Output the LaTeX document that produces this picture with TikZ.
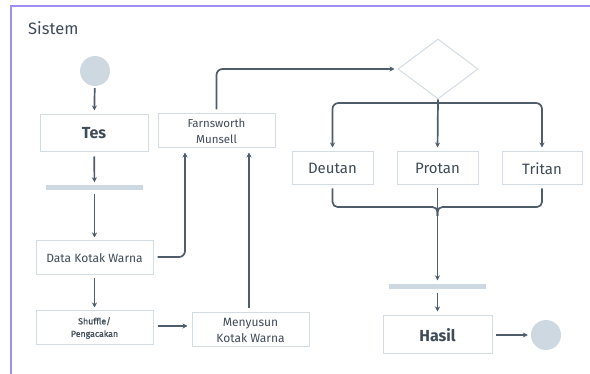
\documentclass[tikz,border=0pt]{standalone}
\usepackage{fontspec}
\setmainfont{Fira Sans}
\usetikzlibrary{shapes.geometric,arrows.meta}
\definecolor{txt}{HTML}{3F4B57}
\definecolor{ln}{HTML}{4F5D6B}
\definecolor{bd}{HTML}{D3DBE3}
\definecolor{fillc}{HTML}{CED8E1}
\definecolor{frame}{HTML}{9E90F5}
\tikzset{
  box/.style={draw=bd, line width=1pt, fill=white, text=txt, align=center, inner sep=1pt},
  bar/.style={fill=fillc, draw=none, minimum height=5pt, inner sep=0pt},
  dot/.style={circle, fill=fillc, draw=none, minimum size=30pt, inner sep=0pt},
  conn/.style={draw=ln, line width=1.7pt, -{Stealth[length=5pt,width=5pt]}, rounded corners=6pt},
  plainconn/.style={draw=ln, line width=1.7pt, rounded corners=5pt},
}
\begin{document}
\begin{tikzpicture}[x=1pt,y=-1pt]
\useasboundingbox (0,0) rectangle (590,374);
\draw[frame, line width=1.3pt] (11,374) -- (11,6) -- (590,6);
\node[anchor=base west, text=txt, font=\fontsize{16.5}{18}\selectfont, inner sep=0pt] (title) at (28,35) {Sistem};

\node[dot] (start) at (95,71) {};
\node[box, minimum width=108pt, minimum height=37pt, font=\fontsize{16}{18}\selectfont\bfseries] (tes) at (94,133.5) {Tes};
\node[bar, minimum width=97pt] (bar1) at (94.5,188) {};
\node[box, minimum width=117pt, minimum height=34pt, font=\fontsize{12}{14}\selectfont] (data) at (94.5,258) {Data Kotak Warna};
\node[box, minimum width=117pt, minimum height=34pt, font=\fontsize{8.8}{12.5}\selectfont\addfontfeature{FakeBold=0.8}] (shuf) at (94.5,328) {Shuffle/\\Pengacakan};
\node[box, minimum width=117pt, minimum height=34pt, font=\fontsize{12}{16}\selectfont] (meny) at (250.5,330) {Menyusun\\Kotak Warna};
\node[box, minimum width=117pt, minimum height=34pt, font=\fontsize{11.5}{16}\selectfont] (farn) at (216.5,131) {Farnsworth\\Munsell};
\node[diamond, draw=bd, line width=1pt, minimum width=80pt, minimum height=60pt, inner sep=0pt, aspect=1.33] (dia) at (438,69) {};
\node[box, minimum width=81pt, minimum height=33pt, font=\fontsize{15}{17}\selectfont] (deu) at (332.5,168.5) {Deutan};
\node[box, minimum width=81pt, minimum height=33pt, font=\fontsize{15}{17}\selectfont] (pro) at (437.5,168.5) {Protan};
\node[box, minimum width=80pt, minimum height=33pt, font=\fontsize{15}{17}\selectfont] (tri) at (542,168.5) {Tritan};
\node[bar, minimum width=97pt] (bar2) at (437.5,287) {};
\node[box, minimum width=109pt, minimum height=38pt, font=\fontsize{16}{18}\selectfont\bfseries] (has) at (437.5,335) {Hasil};
\node[dot] (end) at (546,335) {};

\coordinate (split) at (438,103);
\coordinate (merge) at (437.5,207);
\coordinate (mergelow) at (437.5,216);

\draw[conn, shorten <=2pt, shorten >=4pt] (start) -- (tes);
\draw[conn, shorten <=4pt, shorten >=3pt] (tes) -- (bar1);
\draw[conn, shorten <=3pt, shorten >=3pt] (bar1) -- (data);
\draw[conn, shorten <=3pt, shorten >=3pt] (data) -- (shuf);
\draw[conn, shorten <=4pt, shorten >=4pt] ([yshift=2pt]shuf.east) -- ([yshift=2pt]shuf.east -| meny.west);
\draw[conn, shorten <=4pt, shorten >=4pt] ([xshift=-1.5pt]meny.north) -- ([xshift=-1.5pt]meny.north |- farn.south);
\draw[conn, shorten <=4pt, shorten >=4pt] ([yshift=1pt]data.east) -| ([xshift=-31.5pt]farn.south);
\draw[conn, shorten <=4pt, shorten >=3pt] (farn.north) |- (dia.west);
\draw[conn, shorten >=4pt] (dia.south) -- (pro.north);
\draw[conn, shorten >=4pt] (split) -| (deu.north);
\draw[conn, shorten >=4pt] (split) -| (tri.north);
\draw[plainconn, shorten <=3pt] (deu.south) |- (merge) -- (mergelow);
\draw[plainconn, shorten <=3pt] (tri.south) |- (merge) -- (mergelow);
\draw[conn, shorten <=3pt, shorten >=4pt] (pro.south) -- (bar2);
\draw[conn, shorten <=3pt, shorten >=4pt] (bar2) -- (has);
\draw[conn, shorten <=3pt, shorten >=3pt] (has) -- (end);
\end{tikzpicture}
\end{document}
